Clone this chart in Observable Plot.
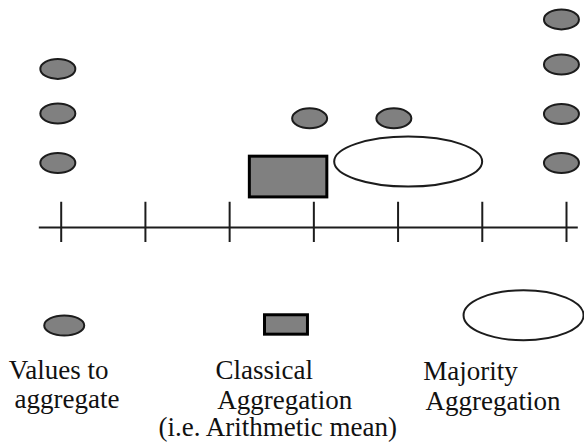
<!DOCTYPE html>
<html>
<head>
<meta charset="utf-8">
<script src="https://cdn.jsdelivr.net/npm/d3@7"></script>
<script src="https://cdn.jsdelivr.net/npm/@observablehq/plot@0.6"></script>
<style>
  html, body { margin: 0; padding: 0; background: #fff; }
  #chart svg { display: block; }
</style>
</head>
<body>
<div id="chart"></div>
<script>
// ---- Data ----
// Number line: ticks at integer positions
const axisTicks = [0, 1, 2, 3, 4, 5, 6];
const axisExtent = [-0.26, 6.14];

// Values to aggregate (grey ellipses): position on the line and stack height
const valueX = [-0.04, -0.04, -0.04, 2.95, 3.95, 5.94, 5.94, 5.94, 5.94];
const valueY = [3.27, 2.35, 1.33, 2.25, 2.25, 4.29, 3.36, 2.34, 1.33];

// Classical aggregation (arithmetic mean) rectangle
const classicalX = [2.24, 3.16];
const classicalY = [0.62, 1.46];

// Majority aggregation (white ellipse)
const majorityX = [4.12];
const majorityY = [1.36];

// Legend symbols
const legendValueX = [0.036], legendValueY = [-2.02];
const legendRectX = [2.42, 2.93], legendRectY = [-2.21, -1.81];
const legendMajX = [5.49], legendMajY = [-1.81];

// Legend text lines
const labelText = ["Values to", "aggregate", "Classical", "Aggregation", "(i.e. Arithmetic mean)", "Majority", "Aggregation"];
const labelX = [-0.622, -0.555, 1.832, 1.852, 1.155, 4.298, 4.326];
const labelY = [-3.12, -3.73, -3.13, -3.75, -4.29, -3.15, -3.77];

// ---- Build tables ----
const values = valueX.map((x, i) => ({x, y: valueY[i]}));
const ticks = axisTicks.map(x => ({x}));
const labels = labelText.map((t, i) => ({t, x: labelX[i], y: labelY[i]}));

// Ellipse symbol: width from r, height = r * k
const ellipse = (k) => ({
  draw(ctx, size) {
    const rx = Math.sqrt(size / Math.PI), ry = rx * k, c = 0.5523;
    ctx.moveTo(rx, 0);
    ctx.bezierCurveTo(rx, c * ry, c * rx, ry, 0, ry);
    ctx.bezierCurveTo(-c * rx, ry, -rx, c * ry, -rx, 0);
    ctx.bezierCurveTo(-rx, -c * ry, -c * rx, -ry, 0, -ry);
    ctx.bezierCurveTo(c * rx, -ry, rx, -c * ry, rx, 0);
    ctx.closePath();
  }
});

const GREY = "#808080", INK = "#1c1c1c";

const chart = Plot.plot({
  width: 584,
  height: 448,
  margin: 0,
  x: {domain: [0, 6], range: [60.7, 566], axis: null},
  y: {domain: [-4.557, 4.680], range: [448, 0], axis: null},
  marks: [
    // number line
    Plot.ruleY([0], {x1: axisExtent[0], x2: axisExtent[1], stroke: INK, strokeWidth: 2}),
    Plot.ruleX(ticks, {x: "x", y1: -0.31, y2: 0.52, stroke: INK, strokeWidth: 2}),
    // values
    Plot.dot(values, {x: "x", y: "y", r: 17.5, symbol: ellipse(10 / 17.5), fill: GREY, stroke: INK, strokeWidth: 2}),
    // classical aggregation
    Plot.rect([{}], {x1: () => classicalX[0], x2: () => classicalX[1], y1: () => classicalY[0], y2: () => classicalY[1], fill: GREY, stroke: "#000", strokeWidth: 3}),
    // majority aggregation
    Plot.dot(majorityX.map((x, i) => ({x, y: majorityY[i]})), {x: "x", y: "y", r: 74, symbol: ellipse(25 / 74), fill: "#fff", stroke: INK, strokeWidth: 2}),
    // legend symbols
    Plot.dot(legendValueX.map((x, i) => ({x, y: legendValueY[i]})), {x: "x", y: "y", r: 20, symbol: ellipse(10 / 20), fill: GREY, stroke: INK, strokeWidth: 2}),
    Plot.rect([{}], {x1: () => legendRectX[0], x2: () => legendRectX[1], y1: () => legendRectY[0], y2: () => legendRectY[1], fill: GREY, stroke: "#000", strokeWidth: 3}),
    Plot.dot(legendMajX.map((x, i) => ({x, y: legendMajY[i]})), {x: "x", y: "y", r: 60, symbol: ellipse(25 / 60), fill: "#fff", stroke: INK, strokeWidth: 2}),
    // legend text
    Plot.text(labels, {x: "x", y: "y", text: "t", textAnchor: "start", lineAnchor: "bottom", fontSize: 27, fontFamily: "Liberation Serif", fill: "#111"})
  ]
});

document.getElementById("chart").appendChild(chart);
</script>
</body>
</html>
